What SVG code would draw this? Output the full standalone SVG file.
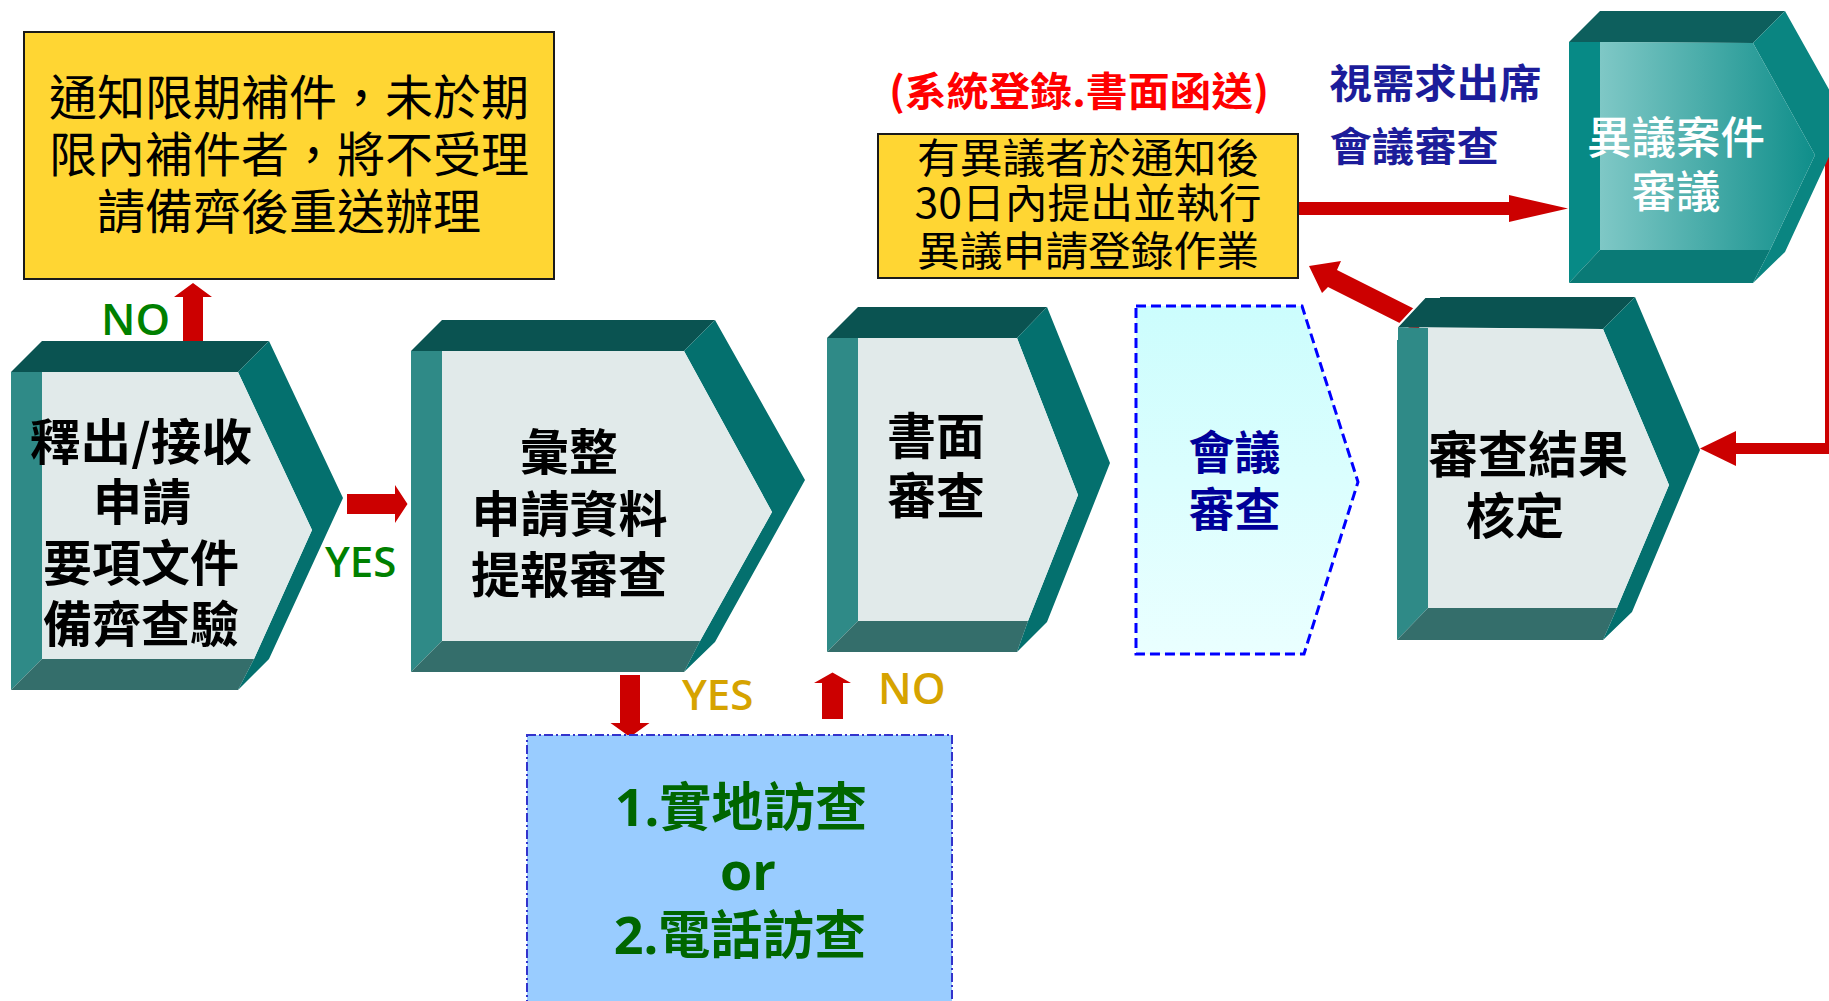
<svg xmlns="http://www.w3.org/2000/svg" width="1829" height="1001" viewBox="0 0 1829 1001">
<defs>
<style>
.top{fill:#0A5351}
.left{fill:#2F8A87}
.bot{fill:#346E6B}
.right{fill:#04706E}
.front{fill:#E1EAEA}
.arrow{fill:#CC0000}
.ybox{fill:#FFD633;stroke:#1A1A1A;stroke-width:2}
.cjk{font-family:"Noto Sans CJK TC","Noto Sans CJK SC",sans-serif}
.lat{font-family:"Open Sans","Noto Sans CJK TC",sans-serif}
.hx{font-size:49px;font-weight:700;fill:#000;text-anchor:middle}
.bx{font-weight:400;fill:#000;text-anchor:middle}
</style>
<linearGradient id="g6" x1="0" y1="0" x2="1" y2="0">
<stop offset="0" stop-color="#7FC8C6"/>
<stop offset="1" stop-color="#0F8E8A"/>
</linearGradient>
<linearGradient id="g4" x1="0" y1="0" x2="0" y2="1">
<stop offset="0" stop-color="#CCFDFD"/>
<stop offset="1" stop-color="#EAFFFF"/>
</linearGradient>
</defs>
<rect width="1829" height="1001" fill="#FFFFFF"/>

<g id="connectors">
<polygon class="arrow" points="183,346 183,297 174,297 193,283 212,297 203,297 203,346"/>
<polygon class="arrow" points="347,494 395,494 395,485 407.5,504 395,523 395,514 347,514"/>
<polygon class="arrow" points="620,675 640,675 640,723 649.5,723 630,737 610.5,723 620,723"/>
<polygon class="arrow" points="822,719 822,683 814,683 832.5,672.5 851,683 843,683 843,719"/>
<polygon class="arrow" points="1298,202 1509,202 1509,195 1568,208.5 1509,222 1509,215 1298,215"/>
<polygon class="arrow" points="1309,266 1341,261 1337,270 1426,314.7 1417,331.7 1328,287 1322,293"/>
<path d="M1830.5,140 V448.5 H1733" fill="none" stroke="#CC0000" stroke-width="11"/>
<polygon class="arrow" points="1736,431 1700,448.5 1736,466"/>
</g>

<g id="notice-box">
<rect class="ybox" x="24" y="32" width="530" height="247"/>
<g class="cjk bx" font-size="48">
<text x="289" y="114.7">通知限期補件，未於期</text>
<text x="289" y="172.2">限內補件者，將不受理</text>
<text x="289" y="229.2">請備齊後重送辦理</text>
</g>
</g>

<g id="label-no-green">
<text class="lat" x="101" y="335" font-size="44" font-weight="600" fill="#008000">NO</text>
</g>
<g id="label-yes-green">
<text class="lat" x="325" y="577" font-size="42" font-weight="600" fill="#008000">YES</text>
</g>
<g id="label-yes-gold">
<text class="lat" x="682" y="710" font-size="42" font-weight="600" fill="#D6A300">YES</text>
</g>
<g id="label-no-gold">
<text class="lat" x="878" y="704" font-size="43" font-weight="600" fill="#D6A300">NO</text>
</g>

<g id="node-release">
<polygon class="top" points="11,372 42,341 269,341 238,372"/>
<polygon class="left" points="11,372 42,372 42,659 11,690"/>
<polygon class="bot" points="11,690 42,659 254,659 238,690"/>
<polygon class="right" points="238,372 269,341 343,498 269,659 238,690 254,659 312,530"/>
<polygon class="front" points="42,372 238,372 312,530 254,659 42,659"/>
<g class="cjk hx">
<text x="141" y="459.6" textLength="222" lengthAdjust="spacingAndGlyphs">釋出/接收</text>
<text x="142" y="520.1">申請</text>
<text x="141" y="580.9">要項文件</text>
<text x="141" y="641.9">備齊查驗</text>
</g>
</g>

<g id="node-compile">
<polygon class="top" points="411,351 442,320 715,320 684,351"/>
<polygon class="left" points="411,351 442,351 442,641 411,672"/>
<polygon class="bot" points="411,672 442,641 700,641 684,672"/>
<polygon class="right" points="684,351 715,320 805,480 715,642 684,672 700,641 772,512"/>
<polygon class="front" points="442,351 684,351 772,512 700,641 442,641"/>
<g class="cjk hx" font-size="49.5">
<text x="569" y="470.3">彙整</text>
<text x="569.5" y="532.1">申請資料</text>
<text x="569" y="592.6">提報審查</text>
</g>
</g>

<g id="node-document-review">
<polygon class="top" points="827,338 858,307 1047,307 1017,338"/>
<polygon class="left" points="827,338 858,338 858,621 827,652"/>
<polygon class="bot" points="827,652 858,621 1028,621 1017,652"/>
<polygon class="right" points="1017,338 1047,307 1110,463 1047,622 1017,652 1028,621 1078,495"/>
<polygon class="front" points="858,338 1017,338 1078,495 1028,621 858,621"/>
<g class="cjk hx">
<text x="936" y="454.4">書面</text>
<text x="936" y="514.1">審查</text>
</g>
</g>

<g id="node-meeting-review">
<polygon points="1136,306 1302,306 1358,482 1304,654 1136,654" fill="url(#g4)" stroke="#0000FF" stroke-width="3" stroke-dasharray="10 5"/>
<g class="cjk" font-size="46" font-weight="700" fill="#000099" text-anchor="middle">
<text x="1234.5" y="468.5">會議</text>
<text x="1234.5" y="526">審查</text>
</g>
</g>

<g id="node-result">
<polygon class="top" points="1397,327 1425,297 1635,297 1603,329"/>
<polygon class="left" points="1397,327 1428,328 1428,608 1397,640"/>
<polygon class="bot" points="1397,640 1428,608 1617,608 1603,640"/>
<polygon class="right" points="1603,329 1635,297 1700,450 1632,612 1603,640 1617,608 1669,485"/>
<polygon class="front" points="1428,328 1603,329 1669,485 1617,608 1428,608"/>
<polyline points="1397,340 1397,327 1425,297 1440,297" fill="none" stroke="#FFFFFF" stroke-width="2"/>
<g class="cjk hx">
<text x="1528" y="473" font-size="50">審查結果</text>
<text x="1515" y="534">核定</text>
</g>
</g>

<g id="node-objection-review">
<polygon fill="#0D5F5D" points="1569,42 1600,11 1785,11 1753,43"/>
<polygon fill="#078A86" points="1569,42 1600,42 1600,250 1569,283"/>
<polygon fill="#0A7A76" points="1569,283 1600,250 1770,250 1753,283"/>
<polygon fill="#0A8581" points="1753,43 1785,11 1846,120 1785,252 1753,283 1770,250 1815,155"/>
<polygon fill="url(#g6)" points="1600,42 1753,43 1815,155 1770,250 1600,250"/>
<g class="cjk" font-size="44.5" font-weight="500" fill="#FFFFFF" text-anchor="middle">
<text x="1676" y="153.7">異議案件</text>
<text x="1676" y="208">審議</text>
</g>
</g>

<g id="objection-box">
<text class="cjk" x="1079" y="106" font-size="40" font-weight="700" fill="#FF0000" text-anchor="middle" textLength="380" lengthAdjust="spacingAndGlyphs">(系統登錄.書面函送)</text>
<rect class="ybox" x="878" y="134" width="420" height="144"/>
<g class="cjk bx" font-size="41">
<text x="1088" y="172.6" textLength="342" lengthAdjust="spacingAndGlyphs">有異議者於通知後</text>
<text x="1088" y="218.1" textLength="347" lengthAdjust="spacingAndGlyphs">30日內提出並執行</text>
<text x="1088" y="265.6" textLength="342" lengthAdjust="spacingAndGlyphs">異議申請登錄作業</text>
</g>
</g>

<g id="label-attend">
<g class="cjk" font-size="40" font-weight="700" fill="#1C1C9A">
<text x="1329.5" y="97.7" textLength="212" lengthAdjust="spacingAndGlyphs">視需求出席</text>
<text x="1329.5" y="160.7" textLength="169.5" lengthAdjust="spacingAndGlyphs">會議審查</text>
</g>
</g>

<g id="node-visit">
<rect x="527" y="735" width="425" height="290" fill="#99CCFF" stroke="#3333CC" stroke-width="2" stroke-dasharray="9 3 2 3"/>
<g class="lat" font-size="52" font-weight="700" fill="#006600" text-anchor="middle">
<text x="741" y="826">1.實地訪查</text>
<text x="748" y="890">or</text>
<text x="740" y="954">2.電話訪查</text>
</g>
</g>
</svg>
